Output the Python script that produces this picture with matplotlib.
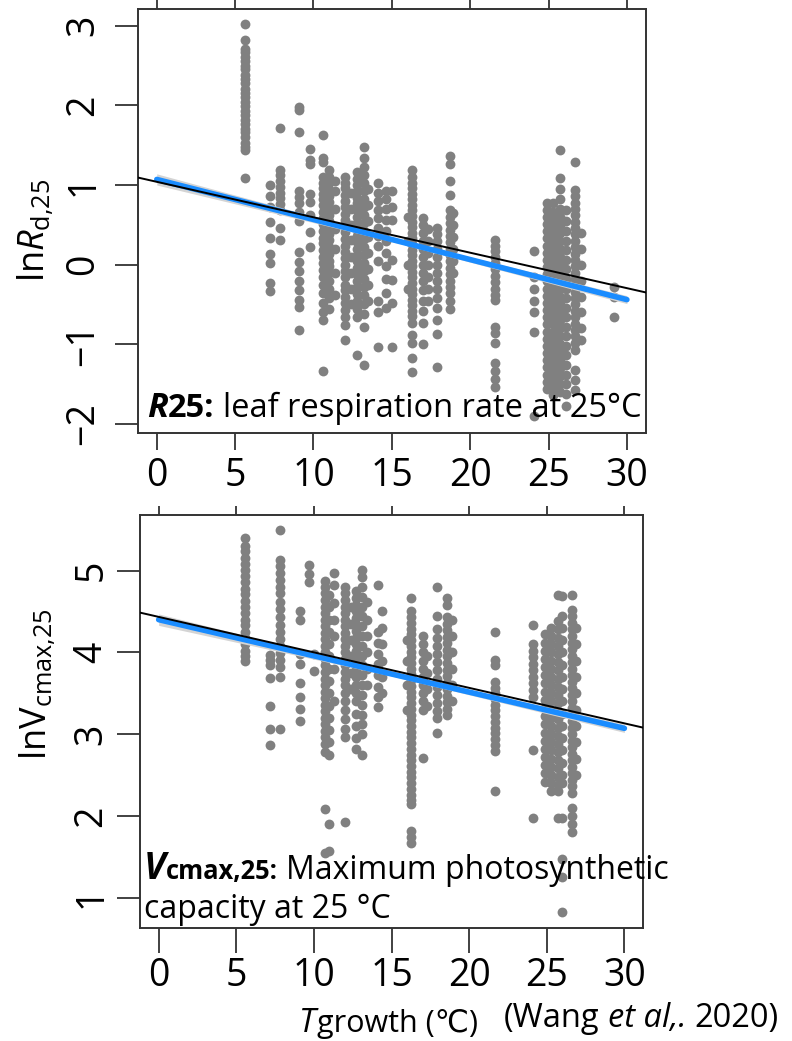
import numpy as np
import matplotlib.pyplot as plt
from matplotlib.offsetbox import TextArea, HPacker, VPacker, AnchoredOffsetbox

plt.rcParams['font.family'] = ['Open Sans', 'DejaVu Sans']
plt.rcParams['mathtext.fontset'] = 'custom'
plt.rcParams['mathtext.rm'] = 'Open Sans'
plt.rcParams['mathtext.it'] = 'Open Sans:italic'
plt.rcParams['mathtext.bf'] = 'Open Sans:bold'

rd_temp = [5.6, 7.2, 7.85, 9.1, 9.75, 10.6, 11.0, 11.4, 12.0, 12.4, 12.8, 13.2, 13.5,
           14.1, 14.6, 15.0, 16.0, 16.27, 17.0, 17.3, 17.9, 18.7, 18.9, 21.6, 24.1,
           24.9, 25.3, 25.7, 26.1, 26.7, 27.1, 29.2]
rd_vals = [
    [3.02, 2.82, 2.71, 2.67, 2.61, 2.56, 2.50, 2.45, 2.38, 2.33, 2.28, 2.21, 2.16, 2.11, 2.04,
     1.99, 1.93, 1.88, 1.82, 1.77, 1.70, 1.66, 1.60, 1.53, 1.48, 1.44, 1.09],
    [1.00, 0.86, 0.73, 0.53, 0.34, 0.13, 0.02, -0.23, -0.33],
    [1.72, 1.19, 1.12, 1.05, 0.98, 0.90, 0.84, 0.76, 0.68, 0.46, 0.31],
    [1.98, 1.94, 1.66, 0.92, 0.85, 0.77, 0.66, 0.55, 0.16, 0.03, -0.08, -0.20, -0.32, -0.44,
     -0.53, -0.82],
    [1.45, 1.31, 1.26, 0.89, 0.79, 0.62, 0.41, 0.22],
    [1.63, 1.34, 1.29, 1.10, 1.02, 0.96, 0.89, 0.82, 0.75, 0.66, 0.58, 0.51, 0.42, 0.34, 0.27,
     0.18, 0.10, 0.02, -0.07, -0.16, -0.25, -0.36, -0.48, -0.60, -0.70, -1.34],
    [1.19, 1.10, 1.03, 0.94, 0.86, 0.79, 0.70, 0.62, 0.55, 0.46, 0.38, 0.31, 0.22, 0.14, 0.05,
     -0.02, -0.11, -0.20, -0.31, -0.42, -0.56],
    [1.05, 0.92, 0.70, 0.45, 0.20, -0.10, -0.38],
    [1.10, 1.03, 0.96, 0.88, 0.80, 0.73, 0.64, 0.56, 0.48, 0.41, 0.32, 0.24, 0.16, 0.08, 0.00,
     -0.08, -0.16, -0.25, -0.32, -0.40, -0.48, -0.57, -0.66, -0.76, -0.94],
    [0.90, 0.70, 0.50, 0.31, 0.10, -0.10, -0.30, -0.50],
    [1.16, 1.08, 1.00, 0.92, 0.84, 0.77, 0.68, 0.60, 0.52, 0.44, 0.36, 0.28, 0.20, 0.12, 0.04,
     -0.04, -0.12, -0.20, -0.28, -0.37, -0.46, -0.56, -0.66, -1.13],
    [1.48, 1.34, 1.22, 1.12, 1.02, 0.92, 0.82, 0.72, 0.62, 0.52, 0.42, 0.32, 0.22, 0.12, 0.02,
     -0.08, -0.18, -0.28, -0.38, -0.50, -0.62, -0.78, -1.26],
    [0.95, 0.75, 0.55, 0.35, 0.15, -0.05, -0.25, -0.45],
    [1.03, 0.90, 0.80, 0.68, 0.58, 0.46, 0.36, 0.24, 0.05, -0.45, -0.60, -1.03],
    [0.92, 0.82, 0.70, 0.56, 0.42, 0.30, 0.15, -0.02, -0.18, -0.35, -0.55],
    [0.92, 0.73, 0.56, 0.06, -0.19, -0.48, -1.03],
    [0.60, 0.30, 0.00, -0.30],
    [1.19, 1.10, 1.03, 0.96, 0.89, 0.82, 0.75, 0.68, 0.61, 0.54, 0.47, 0.40, 0.33, 0.26, 0.19,
     0.12, 0.05, -0.02, -0.09, -0.16, -0.23, -0.30, -0.37, -0.44, -0.51, -0.58, -0.65, -0.73,
     -0.88, -0.98, -1.17, -1.35],
    [0.59, 0.50, 0.40, 0.30, 0.20, 0.10, 0.00, -0.10, -0.20, -0.32, -0.45, -0.58, -0.73, -1.00],
    [0.45, 0.30, 0.15, 0.00, -0.15, -0.30, -0.45],
    [0.46, 0.38, 0.30, 0.20, 0.10, 0.00, -0.10, -0.20, -0.30, -0.42, -0.55, -0.70, -0.87, -1.28],
    [1.36, 1.26, 1.05, 0.88, 0.69, 0.60, 0.52, 0.44, 0.36, 0.28, 0.20, 0.12, 0.04, -0.04, -0.12,
     -0.20, -0.28, -0.36, -0.46, -0.56],
    [0.65, 0.50, 0.35, 0.20, 0.05, -0.10],
    [0.31, 0.24, 0.17, 0.10, 0.02, -0.06, -0.14, -0.22, -0.30, -0.38, -0.44, -0.78, -0.86, -0.98,
     -1.23, -1.33, -1.43, -1.53],
    [0.17, -0.15, -0.30, -0.45, -0.60, -0.85, -1.90],
    [0.78, 0.69, 0.60, 0.51, 0.42, 0.33, 0.24, 0.15, 0.06, -0.03, -0.12, -0.21, -0.30, -0.39,
     -0.48, -0.57, -0.66, -0.75, -0.84, -0.93, -1.02, -1.11, -1.20, -1.29, -1.38, -1.47, -1.56],
    [0.78, 0.66, 0.56, 0.46, 0.36, 0.26, 0.16, 0.06, -0.04, -0.14, -0.24, -0.34, -0.44, -0.54,
     -0.64, -0.74, -0.84, -0.94, -1.04, -1.14, -1.24, -1.34, -1.44, -1.54, -1.64],
    [1.44, 1.09, 0.95, 0.82, 0.70, 0.60, 0.50, 0.40, 0.30, 0.20, 0.10, 0.00, -0.10, -0.20, -0.30,
     -0.40, -0.50, -0.60, -0.70, -0.80, -0.90, -1.00, -1.10, -1.20, -1.30, -1.40, -1.50, -1.60],
    [0.68, 0.55, 0.42, 0.30, 0.18, 0.06, -0.06, -0.18, -0.30, -0.42, -0.54, -0.66, -0.78, -0.90,
     -1.02, -1.14, -1.26, -1.38, -1.50, -1.62, -1.78],
    [1.29, 0.94, 0.86, 0.78, 0.70, 0.62, 0.54, 0.46, 0.38, 0.30, 0.22, 0.14, 0.06, -0.02, -0.10,
     -0.18, -0.26, -0.34, -0.42, -0.50, -0.58, -0.66, -0.74, -0.82, -0.90, -0.98, -1.07, -1.32,
     -1.45, -1.57],
    [0.40, 0.20, 0.00, -0.20, -0.40, -0.60, -0.80, -0.95],
    [-0.28, -0.40, -0.66],
]

# ---- ln Vcmax,25
vc_temp = [5.58, 7.15, 7.83, 9.1, 9.68, 10.0, 10.7, 11.0, 11.3, 12.0, 12.4, 12.7, 13.1, 13.4,
           14.1, 14.4, 16.0, 16.27, 17.0, 17.3, 17.9, 18.6, 18.9, 21.65, 24.1, 24.9, 25.3,
           25.7, 26.0, 26.6, 26.9]
vc_vals = [
    [5.40, 5.30, 5.24, 5.16, 5.08, 5.01, 4.93, 4.86, 4.78, 4.71, 4.63, 4.55, 4.48, 4.40, 4.33,
     4.25, 4.17, 4.10, 4.02, 3.95, 3.89],
    [3.97, 3.91, 3.85, 3.69, 3.35, 3.06, 2.87],
    [5.50, 5.13, 5.06, 4.97, 4.89, 4.80, 4.72, 4.62, 4.53, 4.43, 4.34, 4.25, 4.16, 4.08, 3.99,
     3.91, 3.82, 3.70, 3.06],
    [4.50, 4.40, 3.98, 3.86, 3.62, 3.46, 3.31, 3.16],
    [5.07, 4.96, 4.86],
    [3.98, 3.77],
    [4.87, 4.80, 4.72, 4.64, 4.56, 4.48, 4.40, 4.32, 4.24, 4.16, 4.08, 4.00, 3.92, 3.84, 3.76,
     3.68, 3.60, 3.52, 3.44, 3.36, 3.28, 3.20, 3.12, 3.04, 2.96, 2.88, 2.78, 2.08, 1.55],
    [4.70, 4.55, 4.40, 4.25, 4.10, 3.95, 3.80, 3.65, 3.50, 3.35, 3.20, 3.05, 2.90, 2.75, 1.90,
     1.57],
    [4.97, 4.82, 4.60, 4.40, 4.20, 3.80, 3.40],
    [4.80, 4.72, 4.64, 4.56, 4.48, 4.40, 4.32, 4.24, 4.16, 4.08, 4.00, 3.92, 3.84, 3.76, 3.68,
     3.60, 3.50, 3.40, 3.30, 3.18, 3.06, 2.96, 1.92],
    [4.55, 4.35, 4.15, 3.95, 3.75, 3.55],
    [4.75, 4.66, 4.58, 4.50, 4.42, 4.34, 4.26, 4.18, 4.10, 4.02, 3.94, 3.86, 3.78, 3.70, 3.60,
     3.50, 3.40, 3.25, 3.10, 2.95, 2.82],
    [5.01, 4.92, 4.80, 4.68, 4.56, 4.44, 4.32, 4.20, 4.08, 3.96, 3.84, 3.72, 3.60, 3.48, 3.36,
     3.24, 3.12, 3.00, 2.75],
    [4.62, 4.40, 4.20, 4.00, 3.80, 3.60],
    [4.82, 4.25, 4.12, 3.98, 3.86, 3.72, 3.58, 3.45, 3.33],
    [4.50, 4.30, 4.10, 3.90, 3.70, 3.50],
    [4.15, 3.90, 3.60, 3.30],
    [4.67, 4.50, 4.43, 4.36, 4.29, 4.22, 4.15, 4.08, 4.01, 3.94, 3.87, 3.80, 3.73, 3.66, 3.59,
     3.52, 3.45, 3.38, 3.31, 3.24, 3.17, 3.10, 3.03, 2.96, 2.89, 2.82, 2.75, 2.68, 2.61, 2.54,
     2.47, 2.40, 2.33, 2.26, 2.19, 2.14, 1.81, 1.74, 1.67],
    [4.20, 4.10, 4.00, 3.90, 3.80, 3.70, 3.60, 3.50, 3.40, 3.30, 2.71],
    [3.95, 3.75, 3.55, 3.35],
    [4.80, 4.45, 4.28, 4.18, 4.08, 3.98, 3.88, 3.78, 3.68, 3.58, 3.48, 3.38, 3.28, 3.20, 3.02],
    [4.66, 4.58, 4.43, 4.35, 4.27, 4.19, 4.11, 4.03, 3.95, 3.87, 3.79, 3.71, 3.63, 3.55, 3.47,
     3.39, 3.31, 3.23],
    [4.40, 4.20, 4.00, 3.80, 3.60, 3.40],
    [4.25, 3.91, 3.84, 3.64, 3.57, 3.50, 3.43, 3.36, 3.29, 3.22, 3.15, 3.08, 3.01, 2.94, 2.87,
     2.79, 2.30],
    [4.34, 4.10, 4.02, 3.94, 3.86, 3.78, 3.70, 3.62, 3.54, 3.45, 2.80, 1.98],
    [4.22, 4.12, 4.02, 3.92, 3.82, 3.72, 3.62, 3.52, 3.42, 3.32, 3.22, 3.12, 3.02, 2.92, 2.82,
     2.72, 2.62, 2.52, 2.42],
    [4.30, 4.20, 4.10, 4.00, 3.90, 3.80, 3.70, 3.60, 3.50, 3.40, 3.30, 3.20, 3.10, 3.00, 2.90,
     2.80, 2.70, 2.60, 2.50, 2.40, 2.30],
    [4.70, 4.38, 4.28, 4.18, 4.08, 3.98, 3.88, 3.78, 3.68, 3.58, 3.48, 3.38, 3.28, 3.18, 3.08,
     2.98, 2.88, 2.78, 2.68, 2.58, 2.48, 2.38, 2.30, 1.98],
    [4.69, 4.45, 4.30, 4.15, 4.00, 3.85, 3.70, 3.55, 3.40, 3.25, 3.10, 2.95, 2.80, 2.65, 2.50,
     2.40, 1.97, 1.47, 1.25, 0.82],
    [4.70, 4.52, 4.44, 4.36, 4.28, 4.20, 4.12, 4.04, 3.96, 3.88, 3.80, 3.72, 3.64, 3.56, 3.48,
     3.40, 3.32, 3.24, 3.16, 3.08, 3.00, 2.92, 2.84, 2.76, 2.68, 2.60, 2.52, 2.44, 2.36, 2.28,
     2.10, 2.00, 1.90, 1.80],
    [4.30, 4.10, 3.90, 3.70, 3.50, 3.30, 3.10, 2.90, 2.70, 2.50],
]

# fitted lines (intercept, slope): black = all data, blue = fit with band
rd_black = (1.04, -0.0445)
rd_blue = (1.07, -0.0503)
vc_black = (4.434, -0.0434)
vc_blue = (4.40, -0.0443)
band_x = [0, 15, 30]
band_half = [0.07, 0.025, 0.05]

xticks = [0, 5, 10, 15, 20, 25, 30]


def flat(temps, vals):
    xs = np.concatenate([[t] * len(v) for t, v in zip(temps, vals)])
    ys = np.concatenate(vals)
    return xs, ys


def panel(ax, temps, vals, black, blue, yticks, ylim, ypad, xpad, xlen):
    xs, ys = flat(temps, vals)
    ax.scatter(xs, ys, s=50, color='#808080', linewidths=0, zorder=2)
    bx = np.array(band_x, dtype=float)
    by = blue[0] + blue[1] * bx
    ax.fill_between(bx, by - np.array(band_half), by + np.array(band_half),
                    color='#d4d4d4', lw=0, zorder=3)
    ax.plot([0, 30], [blue[0], blue[0] + blue[1] * 30], color='#1a8cff', lw=4.0,
            solid_capstyle='round', zorder=4)
    ax.axline((0, black[0]), slope=black[1], color='black', lw=1.4, zorder=5)
    ax.set_xlim(-1.2, 31.2)
    ax.set_ylim(*ylim)
    ax.set_xticks(xticks)
    ax.set_yticks(yticks)
    ax.set_yticklabels(['\u2212' + str(-t) if t < 0 else str(t) for t in yticks])
    ax.tick_params(axis='x', length=xlen, width=1.3, labelsize=27, pad=xpad, color='#333333')
    ax.tick_params(axis='y', length=16.5, width=1.3, labelsize=27, pad=ypad,
                   labelrotation=90, color='#333333')
    for lab in ax.get_yticklabels():
        lab.set_va('center')
    for sp in ax.spines.values():
        sp.set_linewidth(1.4)
        sp.set_color('#333333')
    top = ax.secondary_xaxis('top')
    top.set_xticks(xticks)
    top.set_xticklabels([])
    top.tick_params(length=6.5, width=1.3, color='#333333')
    top.spines['top'].set_visible(False)


def rich(parts, size, sep=0):
    boxes = [TextArea(t, textprops=dict(fontsize=size * k, fontweight=w, fontstyle=st))
             for t, k, w, st in parts]
    return HPacker(children=boxes, align='baseline', pad=0, sep=sep)


fig = plt.figure(figsize=(7.92, 10.41), dpi=100)
ax1 = fig.add_axes([0.1742, 0.5843, 0.6411, 0.4071])
ax2 = fig.add_axes([0.1768, 0.1086, 0.6351, 0.3967])

panel(ax1, rd_temp, rd_vals, rd_black, rd_blue, [-2, -1, 0, 1, 2, 3], (-2.11, 3.21),
      ypad=9, xpad=5, xlen=12.5)
panel(ax2, vc_temp, vc_vals, vc_black, vc_blue, [1, 2, 3, 4, 5], (0.63, 5.68),
      ypad=5, xpad=3, xlen=18)

fig.text(0.044, 0.779, r'ln$\mathit{R}_{\mathrm{d{,}25}}$', rotation=90, ha='center',
         va='center', fontsize=26)
fig.text(0.047, 0.343, r'ln$\mathrm{V}_{\mathrm{cmax{,}25}}$', rotation=90, ha='center',
         va='center', fontsize=26)

# panel captions
cap1 = HPacker(children=[rich([('R', 1.05, 'bold', 'italic'), ('25:', 1.0, 'bold', 'normal')], 23.5),
                         rich([('leaf respiration rate at 25°C', 1.0, 'normal', 'normal')], 23.5)],
               align='baseline', pad=0, sep=6)
fig.add_artist(AnchoredOffsetbox(loc='lower left', child=cap1, pad=0, borderpad=0, frameon=False,
                                 bbox_to_anchor=(0.018, 0.018), bbox_transform=ax1.transAxes))

line1 = HPacker(children=[rich([('V', 1.15, 'bold', 'italic'), ('cmax,25:', 0.8, 'bold', 'normal')], 23),
                          rich([('Maximum photosynthetic', 1.0, 'normal', 'normal')], 23)],
                align='baseline', pad=0, sep=6)
line2 = rich([('capacity at 25 °C', 1.0, 'normal', 'normal')], 23)
cap2 = VPacker(children=[line1, line2], align='left', pad=0, sep=4)
fig.add_artist(AnchoredOffsetbox(loc='lower left', child=cap2, pad=0, borderpad=0, frameon=False,
                                 bbox_to_anchor=(0.008, 0.004), bbox_transform=ax2.transAxes))

# x axis title and citation
xtitle = HPacker(children=[TextArea('T', textprops=dict(fontsize=24, fontstyle='italic')),
                           TextArea('growth (℃)', textprops=dict(fontsize=22))],
                 align='baseline', pad=0, sep=1)
fig.add_artist(AnchoredOffsetbox(loc='lower left', child=xtitle, pad=0, borderpad=0, frameon=False,
                                 bbox_to_anchor=(0.378, 0.001), bbox_transform=fig.transFigure))
cite = HPacker(children=[TextArea('(Wang', textprops=dict(fontsize=23.5)),
                         TextArea('et al,.', textprops=dict(fontsize=23.5, fontstyle='italic')),
                         TextArea('2020)', textprops=dict(fontsize=23.5))],
               align='baseline', pad=0, sep=6)
fig.add_artist(AnchoredOffsetbox(loc='lower left', child=cite, pad=0, borderpad=0, frameon=False,
                                 bbox_to_anchor=(0.636, 0.006), bbox_transform=fig.transFigure))

fig.savefig('out.png', dpi=100)
